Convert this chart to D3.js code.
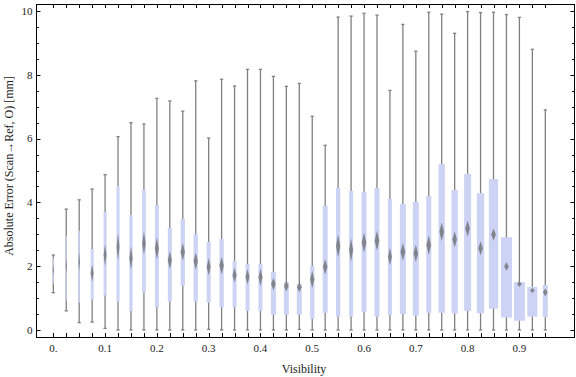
<!DOCTYPE html>
<meta charset="utf-8">
<script src="https://d3js.org/d3.v7.min.js"></script>
<style type="text/css">
body { margin: 0; background: #fff; }
svg { font-family: "Liberation Serif", "Times New Roman", serif; }
.tick-label { font-size: 11px; fill: #222; }
.axis-title { font-size: 12px; fill: #222; }
.whisker { stroke: #808080; stroke-width: 1.3; }
.box { fill: #ccd3f5; }
.median { fill: #6a6a6a; opacity: 0.75; }
.frame { fill: none; stroke: #000; stroke-width: 1; }
.tickmark { stroke: #000; stroke-width: 1; }
</style>
<body>
<div id="canvas"></div>
<script>

// visibility bins (one box each)
var visibility = [0, 0.025, 0.05, 0.075, 0.1, 0.125, 0.15, 0.175, 0.2, 0.225,
                  0.25, 0.275, 0.3, 0.325, 0.35, 0.375, 0.4, 0.425, 0.45, 0.475,
                  0.5, 0.525, 0.55, 0.575, 0.6, 0.625, 0.65, 0.675, 0.7, 0.725,
                  0.75, 0.775, 0.8, 0.825, 0.85, 0.875, 0.9, 0.925, 0.95];

// absolute error statistics [mm]
var minErr = [1.17, 0.6, 0.23, 0.25, 0.05, 0, 0, 0, 0, 0,
              0, 0, 0.02, 0, 0, 0, 0, 0, 0, 0.02,
              0, 0, 0, 0, 0, 0, 0, 0, 0, 0,
              0, 0, 0, 0, 0, 0, 0, 0, 0];
var q1 = [1.46, 0.92, 0.86, 0.96, 1.08, 0.89, 0.6, 1.17, 0.71, 0.89,
          1.39, 0.89, 0.86, 0.71, 0.71, 0.6, 0.6, 0.48, 0.48, 0.48,
          0.35, 0.54, 0.42, 0.42, 0.56, 0.42, 0.47, 0.5, 0.45, 0.54,
          0.54, 0.52, 0.6, 0.52, 0.67, 0.39, 0.29, 0.42, 0.4];
var median = [1.88, 2.0, 2.14, 1.78, 2.35, 2.61, 2.25, 2.72, 2.56, 2.19,
              2.45, 2.16, 1.98, 2.02, 1.72, 1.67, 1.65, 1.44, 1.38, 1.34,
              1.59, 1.98, 2.63, 2.51, 2.74, 2.8, 2.3, 2.45, 2.4, 2.66,
              3.08, 2.84, 3.18, 2.56, 2.99, 1.99, 1.44, 1.24, 1.18];
var q3 = [2.25, 2.95, 3.11, 2.54, 3.70, 4.51, 3.6, 4.39, 3.92, 3.2,
          3.48, 3.01, 2.76, 2.85, 2.16, 2.07, 2.07, 1.82, 1.5, 1.44,
          2.0, 3.89, 4.45, 4.36, 4.33, 4.45, 4.11, 3.95, 4.01, 4.2,
          5.2, 4.39, 4.89, 4.29, 4.73, 2.91, 1.5, 1.35, 1.41];
var maxErr = [2.35, 3.79, 4.08, 4.42, 4.87, 6.06, 6.5, 6.46, 7.26, 7.18,
              6.86, 7.81, 6.02, 7.86, 7.65, 8.17, 8.17, 7.95, 7.64, 7.73,
              6.7, 5.79, 9.81, 9.84, 9.93, 9.87, 7.51, 9.58, 8.74, 9.96,
              9.9, 9.3, 9.98, 9.95, 9.96, 9.89, 9.8, 8.8, 6.9];
// half width of the median confidence interval [mm]
var medianCI = [0.16, 0.24, 0.3, 0.27, 0.34, 0.42, 0.36, 0.36, 0.34, 0.28,
                0.28, 0.27, 0.27, 0.28, 0.24, 0.24, 0.27, 0.19, 0.17, 0.16,
                0.27, 0.24, 0.36, 0.36, 0.31, 0.31, 0.27, 0.28, 0.27, 0.31,
                0.3, 0.25, 0.25, 0.22, 0.19, 0.13, 0.09, 0.08, 0.13];
// relative sample weight of each bin (drives box width)
var weight = [1, 1, 1.4, 3, 3, 3, 3.3, 3.7, 4, 4,
              4.3, 4.3, 4, 4.3, 4, 4, 4, 5, 5, 5,
              4.3, 5, 4.3, 4, 5, 5, 4, 6, 6, 5,
              6.3, 6.3, 7, 7.3, 9.3, 11, 11, 10, 5];

var xLabels = [0, 0.1, 0.2, 0.3, 0.4, 0.5, 0.6, 0.7, 0.8, 0.9];
var yLabels = [0, 2, 4, 6, 8, 10];
var yTicks = [0, 0.5, 1, 1.5, 2, 2.5, 3, 3.5, 4, 4.5, 5, 5.5, 6, 6.5, 7, 7.5, 8, 8.5, 9, 9.5, 10];

var width = 576, height = 377;
var frame = {left: 36, right: 575, top: 4, bottom: 337};

var svg = d3.select('#canvas')
	.append("svg")
	.attr("width", width)
	.attr("height", height);

var x = d3.scaleLinear()
	.domain([0, 0.95])
	.range([53.3, 545.3]);

var y = d3.scaleLinear()
	.domain([0, 10])
	.range([330, 11]);

var wScale = d3.scaleLinear()
	.domain([0, 11])
	.range([0, 11]);

var data = visibility.map(function(v, i) {
	return {v: v, lo: minErr[i], q1: q1[i], med: median[i], q3: q3[i],
	        hi: maxErr[i], ci: medianCI[i], w: weight[i]};
});

// blur for the median marks
var defs = svg.append("defs");
defs.append("filter")
	.attr("id", "soft")
	.attr("x", "-50%").attr("y", "-50%")
	.attr("width", "200%").attr("height", "200%")
	.append("feGaussianBlur")
	.attr("stdDeviation", 0.65);

var g = svg.append("g");

// whiskers ---------------------------------------------------------
g.selectAll(".whisker-line")
	.data(data).enter()
	.append("line")
	.attr("class", "whisker")
	.attr("x1", function(d) { return x(d.v); })
	.attr("x2", function(d) { return x(d.v); })
	.attr("y1", function(d) { return y(d.lo); })
	.attr("y2", function(d) { return y(d.hi); });

["lo", "hi"].forEach(function(k) {
	g.selectAll(".cap-" + k)
		.data(data).enter()
		.append("line")
		.attr("class", "whisker")
		.attr("x1", function(d) { return x(d.v) - 1.6; })
		.attr("x2", function(d) { return x(d.v) + 1.6; })
		.attr("y1", function(d) { return y(d[k]); })
		.attr("y2", function(d) { return y(d[k]); });
});

// boxes ------------------------------------------------------------
g.selectAll(".box")
	.data(data).enter()
	.append("rect")
	.attr("class", "box")
	.attr("x", function(d) { return x(d.v) - wScale(d.w) / 2; })
	.attr("width", function(d) { return wScale(d.w); })
	.attr("y", function(d) { return y(d.q3); })
	.attr("height", function(d) { return y(d.q1) - y(d.q3); });

// median diamonds --------------------------------------------------
g.selectAll(".median")
	.data(data).enter()
	.append("path")
	.attr("class", "median")
	.attr("filter", "url(#soft)")
	.attr("d", function(d) {
		var cx = x(d.v), cy = y(d.med);
		var hw = Math.min(wScale(d.w), 4.6) / 2;
		var top = y(d.med + d.ci), bot = y(d.med - d.ci);
		return "M" + cx + "," + top + "L" + (cx + hw) + "," + cy +
		       "L" + cx + "," + bot + "L" + (cx - hw) + "," + cy + "Z";
	});

// frame and ticks --------------------------------------------------
svg.append("rect")
	.attr("class", "frame")
	.attr("x", frame.left + 0.5)
	.attr("y", frame.top + 0.5)
	.attr("width", frame.right - frame.left - 1)
	.attr("height", frame.bottom - frame.top);

var ax = svg.append("g");

// bottom / top ticks at every bin
ax.selectAll(".xt-b")
	.data(visibility).enter()
	.append("line")
	.attr("class", "tickmark")
	.attr("x1", function(d) { return Math.round(x(d)) + 0.5; })
	.attr("x2", function(d) { return Math.round(x(d)) + 0.5; })
	.attr("y1", frame.bottom)
	.attr("y2", frame.bottom - 4);

ax.selectAll(".xt-t")
	.data(visibility).enter()
	.append("line")
	.attr("class", "tickmark")
	.attr("x1", function(d) { return Math.round(x(d)) + 0.5; })
	.attr("x2", function(d) { return Math.round(x(d)) + 0.5; })
	.attr("y1", frame.top)
	.attr("y2", frame.top + 4);

// left / right ticks
function yTickLen(d) { return (d % 2 === 0) ? 4.5 : 2.8; }

ax.selectAll(".yt-l")
	.data(yTicks).enter()
	.append("line")
	.attr("class", "tickmark")
	.attr("x1", frame.left)
	.attr("x2", function(d) { return frame.left + yTickLen(d); })
	.attr("y1", function(d) { return Math.round(y(d)) + 0.5; })
	.attr("y2", function(d) { return Math.round(y(d)) + 0.5; });

ax.selectAll(".yt-r")
	.data(yTicks).enter()
	.append("line")
	.attr("class", "tickmark")
	.attr("x1", frame.right)
	.attr("x2", function(d) { return frame.right - yTickLen(d); })
	.attr("y1", function(d) { return Math.round(y(d)) + 0.5; })
	.attr("y2", function(d) { return Math.round(y(d)) + 0.5; });

// tick labels
ax.selectAll(".xl")
	.data(xLabels).enter()
	.append("text")
	.attr("class", "tick-label")
	.attr("x", function(d) { return x(d); })
	.attr("y", 352)
	.style("text-anchor", "middle")
	.text(function(d) { return d === 0 ? "0." : d3.format(".1f")(d); });

ax.selectAll(".yl")
	.data(yLabels).enter()
	.append("text")
	.attr("class", "tick-label")
	.attr("x", 32.5)
	.attr("y", function(d) { return y(d); })
	.attr("dy", ".35em")
	.style("text-anchor", "end")
	.text(function(d) { return d; });

// axis titles
svg.append("text")
	.attr("class", "axis-title")
	.attr("x", 304)
	.attr("y", 373)
	.style("text-anchor", "middle")
	.text("Visibility");

svg.append("text")
	.attr("class", "axis-title")
	.attr("transform", "translate(13,166) rotate(-90)")
	.style("text-anchor", "middle")
	.text("Absolute Error (Scan\u2192Ref, O) [mm]");

</script>
</body>
